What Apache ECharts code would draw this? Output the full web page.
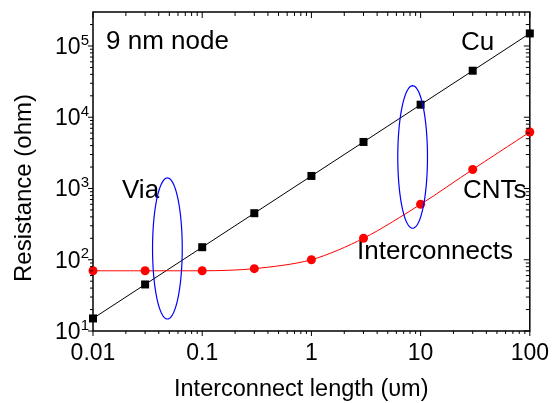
<!DOCTYPE html>
<html><head><meta charset="utf-8">
<script src="https://cdn.jsdelivr.net/npm/echarts@6/dist/echarts.min.js"></script>
<style>html,body{margin:0;padding:0;background:#fff}#c{width:552px;height:403px}</style>
</head><body><div id="c"></div>
<script>
// ---- data ----
const lengths = [0.01, 0.03, 0.1, 0.3, 1, 3, 10, 30, 100];
const cuResistance = [15, 45, 150, 450, 1500, 4500, 15000, 45000, 150000];
const cntResistance = [70, 70, 70, 75, 100, 200, 600, 1850, 6200];
const xTickValues = [0.01, 0.1, 1, 10, 100];
const xTickLabels = ['0.01', '0.1', '1', '10', '100'];
const yTickValues = [10, 100, 1000, 10000, 100000];
const yTickExponents = ['1', '2', '3', '4', '5'];
const xMin = 0.01, xMax = 100, yMin = 10, yMax = 300000;
// ellipse annotations: centre (data units) and half sizes (decades)
const ellipseCentres = [[0.048, 144], [8.45, 2770]];
const ellipseHalfDecades = [[0.136, 0.99], [0.136, 1.0]];

const FONT = 'Liberation Sans, Arial, sans-serif';

function minorOf(majors, lo, hi) {
  const out = [];
  majors.forEach(m => { for (let k = 2; k <= 9; k++) { const v = m * k; if (v > lo && v < hi) out.push(v); } });
  return out;
}
const xTicks = xTickValues.map(v => [v, 1]).concat(minorOf(xTickValues, xMin, xMax).map(v => [v, 0]));
const yTicks = yTickValues.map(v => [v, 1]).concat(minorOf(yTickValues, yMin, yMax * 0.99).map(v => [v, 0]));

const chart = echarts.init(document.getElementById('c'), null, {renderer: 'canvas'});

function lineEl(x1, y1, x2, y2) {
  return {type: 'line', shape: {x1, y1, x2, y2}, style: {stroke: '#000', lineWidth: 1}};
}

const option = {
  animation: false,
  backgroundColor: '#fff',
  grid: {left: 93, right: 19, top: 12, bottom: 72, show: true, borderColor: '#000', borderWidth: 1.5, backgroundColor: 'transparent'},
  xAxis: {
    type: 'log', logBase: 10, min: xMin, max: xMax,
    axisLine: {show: false}, axisTick: {show: false}, splitLine: {show: false},
    axisLabel: {
      margin: 11, color: '#000', fontFamily: FONT, fontSize: 23,
      formatter: v => {
        const i = xTickValues.findIndex(t => Math.abs(Math.log10(t) - Math.log10(v)) < 1e-6);
        return i >= 0 ? xTickLabels[i] : '';
      }
    }
  },
  yAxis: {
    type: 'log', logBase: 10, min: yMin, max: yMax,
    axisLine: {show: false}, axisTick: {show: false}, splitLine: {show: false},
    axisLabel: {
      margin: 4, color: '#000', fontFamily: FONT,
      formatter: v => {
        const i = yTickValues.findIndex(t => Math.abs(Math.log10(t) - Math.log10(v)) < 1e-6);
        return i >= 0 ? '{b|10}{s|' + yTickExponents[i] + '}' : '';
      },
      rich: {
        b: {fontSize: 23, fontFamily: FONT, color: '#000', lineHeight: 26, verticalAlign: 'bottom'},
        s: {fontSize: 15, fontFamily: FONT, color: '#000', lineHeight: 26, verticalAlign: 'top', padding: [0, 0, 0, 0]}
      }
    }
  },
  series: [
    {
      type: 'line', name: 'Cu', data: lengths.map((x, i) => [x, cuResistance[i]]),
      symbol: 'rect', symbolSize: 8, itemStyle: {color: '#000'},
      lineStyle: {color: '#000', width: 1}, z: 3
    },
    {
      type: 'line', name: 'CNTs', data: lengths.map((x, i) => [x, cntResistance[i]]),
      symbol: 'circle', symbolSize: 9, itemStyle: {color: '#ff0000'}, smooth: 0.3,
      lineStyle: {color: '#ff0000', width: 1}, z: 3
    },
    {
      type: 'custom', name: 'xticks', data: xTicks, silent: true, z: 5,
      renderItem: (p, api) => {
        const v = api.value(0), major = api.value(1);
        const b = api.coord([v, yMin]), t = api.coord([v, yMax]);
        const out = major ? 5 : 3, inn = major ? 6 : 4;
        return {type: 'group', children: [lineEl(b[0], b[1], b[0], b[1] + out), lineEl(t[0], t[1], t[0], t[1] + inn)]};
      }
    },
    {
      type: 'custom', name: 'yticks', data: yTicks.map(d => [xMin, d[0], d[1]]), silent: true, z: 5,
      renderItem: (p, api) => {
        const v = api.value(1), major = api.value(2);
        const l = api.coord([xMin, v]), r = api.coord([xMax, v]);
        const out = major ? 5 : 3, inn = major ? 6 : 4;
        return {type: 'group', children: [lineEl(l[0] - out, l[1], l[0], l[1]), lineEl(r[0] - inn, r[1], r[0], r[1])]};
      }
    },
    {
      type: 'custom', name: 'ellipses', data: ellipseCentres.map((c, i) => [c[0], c[1], ellipseHalfDecades[i][0], ellipseHalfDecades[i][1]]),
      silent: true, z: 4,
      renderItem: (p, api) => {
        const cx = api.value(0), cy = api.value(1), hx = api.value(2), hy = api.value(3);
        const c = api.coord([cx, cy]);
        const right = api.coord([cx * Math.pow(10, hx), cy]);
        const top = api.coord([cx, cy * Math.pow(10, hy)]);
        const rx = right[0] - c[0], ry = c[1] - top[1];
        const pts = [];
        for (let k = 0; k < 120; k++) { const a = k / 120 * Math.PI * 2; pts.push([c[0] + rx * Math.cos(a), c[1] + ry * Math.sin(a)]); }
        return {type: 'polygon', shape: {points: pts}, style: {fill: 'none', stroke: '#0000ff', lineWidth: 1.2}};
      }
    }
  ],
  graphic: [
    {type: 'text', left: 106, top: 29, style: {text: '9 nm node', font: '26px ' + FONT, fill: '#000'}},
    {type: 'text', left: 461, top: 30, style: {text: 'Cu', font: '26px ' + FONT, fill: '#000'}},
    {type: 'text', left: 122, top: 178, style: {text: 'Via', font: '26px ' + FONT, fill: '#000'}},
    {type: 'text', left: 463, top: 178, style: {text: 'CNTs', font: '26px ' + FONT, fill: '#000'}},
    {type: 'text', left: 357, top: 239, style: {text: 'Interconnects', font: '26px ' + FONT, fill: '#000'}},
    {type: 'text', left: 174, top: 378, style: {text: 'Interconnect length (υm)', font: '23.5px ' + FONT, fill: '#000'}},
    {type: 'text', x: 24, y: 188, rotation: Math.PI / 2, style: {text: 'Resistance (ohm)', font: '24px ' + FONT, fill: '#000', align: 'center', verticalAlign: 'middle'}}
  ]
};
chart.setOption(option);
</script></body></html>
